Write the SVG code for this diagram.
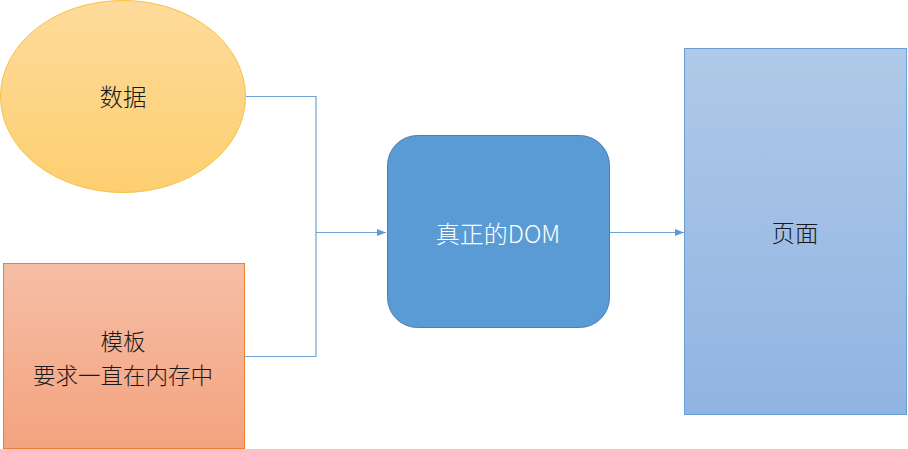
<svg xmlns="http://www.w3.org/2000/svg" width="908" height="449" viewBox="0 0 908 449">
<defs>
<linearGradient id="gY" x1="0" y1="0" x2="0" y2="1"><stop offset="0" stop-color="#fedb9c"/><stop offset="1" stop-color="#fdcf70"/></linearGradient>
<linearGradient id="gO" x1="0" y1="0" x2="0" y2="1"><stop offset="0" stop-color="#f6bea6"/><stop offset="1" stop-color="#f4a37f"/></linearGradient>
<linearGradient id="gB" x1="0" y1="0" x2="0" y2="1"><stop offset="0" stop-color="#b0c9e8"/><stop offset="1" stop-color="#90b4e2"/></linearGradient>
<marker id="arr" viewBox="0 0 10 10" refX="10" refY="5" markerWidth="9" markerHeight="9" markerUnits="userSpaceOnUse" orient="auto"><path d="M0,1 L10,5 L0,9 Z" fill="#5b9bd5"/></marker>
<style>
.t{font-family:"Noto Sans CJK SC","Microsoft YaHei",sans-serif;font-size:23.5px;font-weight:300;text-anchor:middle;dominant-baseline:central;fill:#1a1a1a}
.w{fill:#ffffff}
.c{fill:none;stroke:#6fa3d6;stroke-width:1.2}
</style>
</defs>
<rect width="908" height="449" fill="#ffffff"/>
<g id="connectors">
<polyline class="c" points="246,96.5 316,96.5 316,356.5 245,356.5"/>
<line class="c" x1="316" y1="232.5" x2="386" y2="232.5" marker-end="url(#arr)"/>
<line class="c" x1="610" y1="232.5" x2="684" y2="232.5" marker-end="url(#arr)"/>
</g>
<g id="data">
<ellipse cx="123" cy="96.5" rx="122.5" ry="96" fill="url(#gY)" stroke="#f6c143" stroke-width="1"/>
<text class="t" x="123" y="96">数据</text>
</g>
<g id="template">
<rect x="3.5" y="263.5" width="241" height="185" fill="url(#gO)" stroke="#ed7d31" stroke-width="1"/>
<text class="t" x="123" y="340" style="font-size:22.5px">模板</text>
<text class="t" x="123" y="374" style="font-size:22.5px">要求一直在内存中</text>
</g>
<g id="realdom">
<rect x="387.5" y="135.5" width="222" height="192" rx="30" ry="30" fill="#5b9bd5" stroke="#4a7fb0" stroke-width="1"/>
<text class="t w" x="498" y="232" style="font-size:24px">真正的DOM</text>
</g>
<g id="page">
<rect x="684.5" y="48.5" width="222" height="366" fill="url(#gB)" stroke="#6a9fd3" stroke-width="1"/>
<text class="t" x="795" y="232">页面</text>
</g>
</svg>
